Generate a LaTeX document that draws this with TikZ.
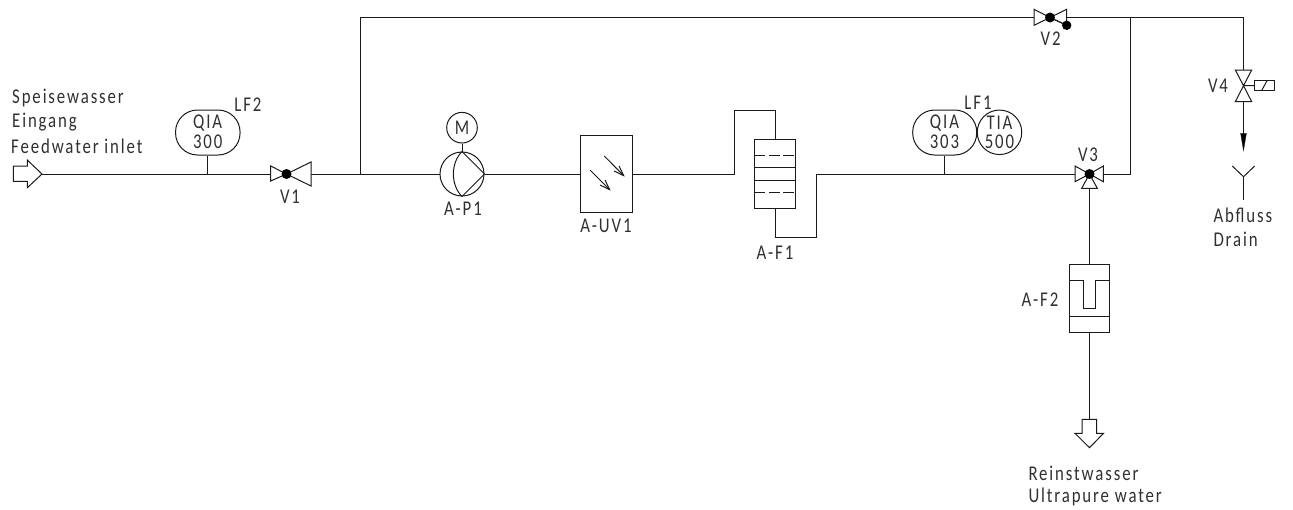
\documentclass[tikz,border=0pt]{standalone}
\usepackage{fontspec}
\setmainfont{Carlito}[LetterSpace=9,FakeStretch=0.8]
\usetikzlibrary{arrows.meta,calc}
\definecolor{ink}{HTML}{1A1A1A}
\definecolor{txt}{HTML}{303030}
\tikzset{
  pipe/.style={draw=ink,line width=1pt,line join=miter},
  sym/.style={draw=ink,line width=1pt,fill=white,line join=miter},
  lab/.style={inner sep=0pt,text=txt,font=\fontsize{21}{23}\selectfont},
  ball/.style={circle,fill=black,draw=none,inner sep=0pt,minimum size=10pt},
  rays/.style={pipe,-{Straight Barb[length=10pt,width=7pt,line width=1pt]}}
}
\begin{document}
\begin{tikzpicture}[x=1pt,y=-1pt]
\useasboundingbox (0,0) rectangle (1293,509);
% named points
\coordinate (inlet) at (42,174);
\coordinate (j300) at (207.5,174);
\coordinate (v1l) at (270.7,174);
\coordinate (v1r) at (311,174);
\coordinate (jby) at (360.5,174);
\coordinate (ctop) at (360.5,17.5);
\coordinate (v2l) at (1034,17.5);
\coordinate (v2r) at (1066.7,17.5);
\coordinate (jret) at (1130.5,17.5);
\coordinate (cdr) at (1243.5,17.5);
\coordinate (retb) at (1130.5,174);
\coordinate (v3l) at (1075,174);
\coordinate (v3r) at (1103.3,174);
\coordinate (v3b) at (1089.5,188.3);
\coordinate (j303) at (944.5,174);
\coordinate (f1a) at (734,174);
\coordinate (f1b) at (734,110.5);
\coordinate (f1c) at (775,110.5);
\coordinate (f1d) at (775,237.5);
\coordinate (f1e) at (816.5,237.5);
\coordinate (f1f) at (816.5,174);
\coordinate (v4t) at (1243.5,70);
\coordinate (v4b) at (1243.5,101.7);
\coordinate (fun) at (1243.5,176.7);
% instruments
\node[draw=ink,line width=1pt,rounded corners=22pt,minimum width=64.5pt,minimum height=45pt,inner sep=0pt] (qia300) at (207.8,132.5) {};
\node[draw=ink,line width=1pt,rounded corners=22pt,minimum width=64pt,minimum height=45pt,inner sep=0pt] (qia303) at (944.7,132.5) {};
\node[draw=ink,line width=1pt,circle,minimum size=44.5pt,inner sep=0pt] (tia500) at (999.5,132.3) {};
\node[lab] (t300a) at (207.7,123) {QIA};
\node[lab] (t300b) at (207.7,142) {300};
\node[lab] (tlf2) at (248,105) {LF2};
\node[lab] (t303a) at (944.5,123) {QIA};
\node[lab] (t303b) at (944.5,142) {303};
\node[lab] (t500a) at (999.5,123) {TIA};
\node[lab] (t500b) at (999.5,142) {500};
\node[lab] (tlf1) at (978,103) {LF1};
% equipment
\node[draw=ink,line width=1pt,circle,minimum size=44pt,inner sep=0pt] (pump) at (462,174) {};
\node[draw=ink,line width=1pt,circle,minimum size=30.6pt,inner sep=0pt,text=txt,font=\fontsize{21}{23}\selectfont] (motor) at (462,127.7) {\addfontfeature{LetterSpace=0}M};
\node[draw=ink,line width=1pt,minimum width=52pt,minimum height=76.7pt,inner sep=0pt] (uv) at (606,173.7) {};
\node[draw=ink,line width=1pt,minimum width=40.3pt,minimum height=68.6pt,inner sep=0pt] (f1) at (775.1,174) {};
\node[draw=ink,line width=1pt,minimum width=40pt,minimum height=68.3pt,inner sep=0pt] (f2) at (1089.5,298.2) {};
% pipes
\draw[pipe] (inlet) -- (v1l);
\draw[pipe] (j300) -- (qia300.south -| j300);
\draw[pipe] (v1r) -- (pump.west);
\draw[pipe] (jby) -- (ctop) -- (v2l);
\draw[pipe] (v2r) -- (cdr) -- (v4t);
\draw[pipe] (jret) -- (retb) -- (v3r);
\draw[pipe] (pump.east) -- (uv.west |- pump.east);
\draw[pipe] (uv.east |- f1a) -- (f1a) -- (f1b) -- (f1c) -- (f1c |- f1.north);
\draw[pipe] (f1d |- f1.south) -- (f1d) -- (f1e) -- (f1f) -- (v3l);
\draw[pipe] (j303) -- (qia303.south -| j303);
\draw[pipe] (v3b) -- (f2.north);
\draw[pipe] (motor.south) -- (pump.north);
% pump inner
\draw[pipe] (pump.north) -- (pump.east) -- (pump.south);
\draw[pipe] (pump.north) .. controls (450.5,163) and (450.5,185) .. (pump.south);
% UV rays
\coordinate (r1a) at (604.3,156); \coordinate (r1b) at (624.7,176.7);
\coordinate (r2a) at (590,170); \coordinate (r2b) at (610.7,190.7);
\draw[rays] (r1a) -- (r1b);
\draw[rays] (r2a) -- (r2b);
% F1 inner
\draw[pipe,dash pattern=on 11pt off 3.5pt] (f1.west |- 0,155.5) -- (f1.east |- 0,155.5);
\draw[pipe] (f1.west |- 0,167.5) -- (f1.east |- 0,167.5);
\draw[pipe] (f1.west |- 0,180) -- (f1.east |- 0,180);
\draw[pipe,dash pattern=on 11pt off 3.5pt] (f1.west |- 0,192) -- (f1.east |- 0,192);
% F2 inner
\draw[pipe] (f2.west |- 0,280.5) -- (1083.5,280.5) -- (1083.5,308.5) -- (1095.5,308.5) -- (1095.5,280.5) -- (f2.east |- 0,280.5);
\draw[pipe] (f2.west |- 0,316.5) -- (f2.east |- 0,316.5);
% outlet
\coordinate (outl) at (1089.5,419.3);
\draw[pipe] (f2.south) -- (outl);
\draw[sym] (1082,419.3) -- (1096.7,419.3) -- (1096.7,433.3) -- (1103.5,433.3) -- (1089.5,447.7) -- (1075,433.3) -- (1082,433.3) -- cycle;
% inlet arrow
\draw[sym] (13.3,166) -- (27.3,166) -- (27.3,160) -- (42,174) -- (27.3,187.7) -- (27.3,181.3) -- (13.3,181.3) -- cycle;
% V1
\draw[sym] (v1l |- 0,166) -- (286.5,174) -- (v1l |- 0,181) -- cycle;
\draw[sym] (v1r |- 0,162) -- (286.5,174) -- (v1r |- 0,186) -- cycle;
\node[ball] (v1) at (286.5,174) {};
\node[lab] (tv1) at (290,197) {V1};
% V2
\draw[sym] (v2l |- 0,9.3) -- (1050,17.5) -- (v2l |- 0,25.3) -- cycle;
\draw[sym] (v2r |- 0,9.3) -- (1050,17.5) -- (v2r |- 0,25.3) -- cycle;
\node[ball] (v2) at (1050,17.5) {};
\node[ball,minimum size=9.4pt] (v2ball) at (1066.7,25.3) {};
\draw[pipe] (v2) -- (v2ball);
\node[lab] (tv2) at (1050.7,39) {V2};
% V3
\draw[sym] (v3l |- 0,166) -- (1089.5,174) -- (v3l |- 0,181.7) -- cycle;
\draw[sym] (v3r |- 0,166) -- (1089.5,174) -- (v3r |- 0,181.7) -- cycle;
\draw[sym] (1081.7,188.3) -- (1089.5,174) -- (1097.3,188.3) -- cycle;
\node[ball] (v3) at (1089.5,174) {};
\node[lab] (tv3) at (1088,155) {V3};
% V4
\draw[sym] (1235.3,70) -- (1251.7,70) -- (1243.5,85.7) -- cycle;
\draw[sym] (1235.3,101.7) -- (1251.7,101.7) -- (1243.5,85.7) -- cycle;
\node[draw=ink,line width=1pt,minimum width=19.6pt,minimum height=9.6pt,inner sep=0pt] (act) at (1264.5,85.5) {};
\draw[pipe] (1243.5,85.7) -- (act.west);
\draw[pipe] (1261.8,90.3) -- (1267,80.7);
\node[lab] (tv4) at (1218,86) {V4};
% drain
\draw[pipe] (v4b) -- (1243.5,134);
\draw[ink,fill=black,line width=0.3pt] (1240.6,133.3) -- (1246.4,133.3) -- (1243.5,150.7) -- cycle;
\coordinate (fl) at (1232.3,166); \coordinate (fr) at (1254.7,166); \coordinate (fb) at (1243.5,200);
\draw[pipe] (fl) -- (fun) -- (fr);
\draw[pipe] (fun) -- (fb);
% labels
\node[lab,anchor=west] (ts1) at (12,98) {Speisewasser};
\node[lab,anchor=west] (ts2) at (12,122.5) {Eingang};
\node[lab,anchor=west] (ts3) at (11,146) {Feedwater inlet};
\node[lab] (tp1) at (463,209) {A-P1};
\node[lab] (tuv) at (606,226) {A-UV1};
\node[lab] (tf1) at (775,253) {A-F1};
\node[lab] (tf2) at (1040,300) {A-F2};
\node[lab,anchor=west] (tr1) at (1028.3,473) {Reinstwasser};
\node[lab,anchor=west] (tr2) at (1028.3,496.5) {Ultrapure water};
\node[lab,anchor=west] (ta1) at (1213.3,215) {Abfluss};
\node[lab,anchor=west] (ta2) at (1213.3,239) {Drain};
\end{tikzpicture}
\end{document}
